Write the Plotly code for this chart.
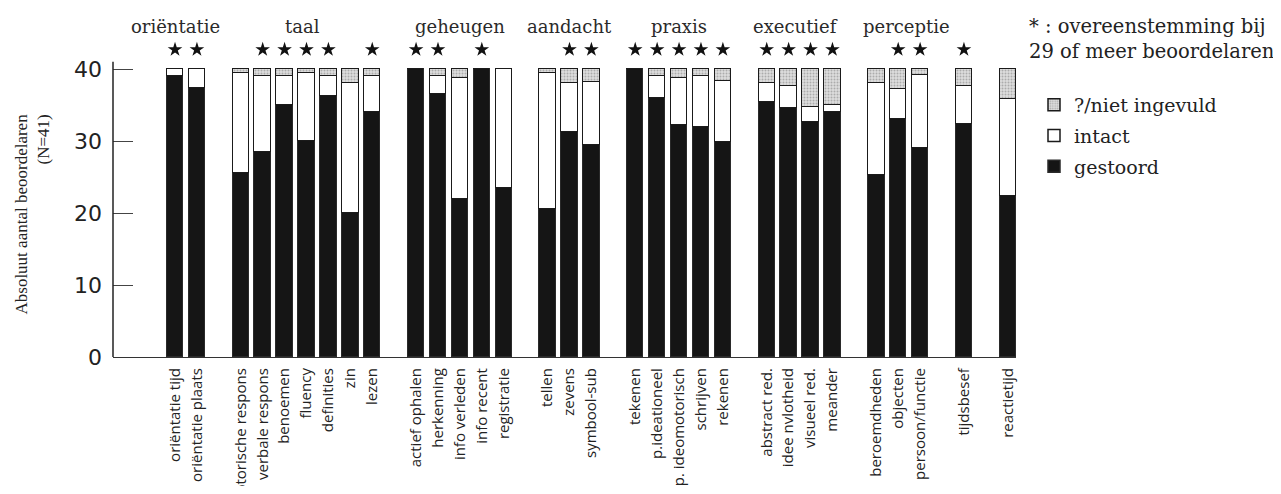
import plotly.graph_objects as go

# ---------------- data ----------------
labels = ["oriëntatie tijd", "oriëntatie plaats",
          "motorische respons", "verbale respons", "benoemen", "fluency", "definities", "zin", "lezen",
          "actief ophalen", "herkenning", "info verleden", "info recent", "registratie",
          "tellen", "zevens", "symbool-sub",
          "tekenen", "p.ideationeel", "p. ideomotorisch", "schrijven", "rekenen",
          "abstract red.", "idee nvlotheid", "visueel red.", "meander",
          "beroemdheden", "objecten", "persoon/functie",
          "tijdsbesef",
          "reactietijd"]
groups = ["oriëntatie"] * 2 + ["taal"] * 7 + ["geheugen"] * 5 + ["aandacht"] * 3 + \
         ["praxis"] * 5 + ["executief"] * 4 + ["perceptie"] * 3 + ["tijd"] + ["reactie"]
group_titles = {"oriëntatie": "oriëntatie", "taal": "taal", "geheugen": "geheugen",
                "aandacht": "aandacht", "praxis": "praxis", "executief": "executief",
                "perceptie": "perceptie", "tijd": "", "reactie": ""}

gestoord = [39, 37.3, 25.5, 28.5, 35, 30, 36.3, 20, 34, 40, 36.5, 22, 40, 23.5,
            20.5, 31.3, 29.5, 40, 36, 32.2, 32, 29.8, 35.4, 34.6, 32.7, 34,
            25.3, 33.1, 29, 32.4, 22.3]
intact = [1, 2.7, 14, 10.5, 4, 9.5, 2.7, 18, 5, 0, 2.5, 16.8, 0, 16.5,
          19, 6.7, 8.7, 0, 3, 6.6, 7, 8.5, 2.6, 3.1, 2, 1,
          12.7, 4.1, 10.2, 5.2, 13.5]
onbekend = [0, 0, 0.5, 1, 1, 0.5, 1, 2, 1, 0, 1, 1.2, 0, 0,
            0.5, 2, 1.8, 0, 1, 1.2, 1, 1.7, 2, 2.3, 5.3, 5,
            2, 2.8, 0.8, 2.4, 4.2]
consensus = [1, 1, 0, 1, 1, 1, 1, 0, 1, 1, 1, 0, 1, 0, 0, 1, 1,
             1, 1, 1, 1, 1, 1, 1, 1, 1, 0, 1, 1, 1, 0]
y_ticks = [0, 10, 20, 30, 40]
y_axis_top = 41

# ---------------- positions (one empty slot between groups) ----------------
pos = []
p = 0
for i, g in enumerate(groups):
    if i > 0:
        p += 1 if g == groups[i - 1] else 2
    pos.append(p)

# page has an 8px body margin; work in figure coordinates
OFF = 8
W, H = 1281 - 2 * OFF, 494 - 2 * OFF
ml, mt = 113 - OFF, 4
mr = W - (1016 - OFF)
mb = H - (357 - OFF)
pw = W - ml - mr
ph = H - mt - mb
y_top = ph / 7.2


def px(x_ref):
    return (x_ref - OFF - ml) / pw


def py(y_ref):
    return (H - mb - (y_ref - OFF)) / ph


fig = go.Figure()
bar_w = 0.75
fig.add_trace(go.Bar(x=pos, y=gestoord, name="gestoord", width=bar_w, legendgroup="a",
                     legendrank=3,
                     marker=dict(color="#151515", line=dict(color="#2a2a2a", width=1.5))))
fig.add_trace(go.Bar(x=pos, y=intact, name="intact", width=bar_w, legendgroup="b",
                     legendrank=2,
                     marker=dict(color="white", line=dict(color="#1a1a1a", width=1.5))))
fig.add_trace(go.Bar(x=pos, y=onbekend, name="?/niet ingevuld", width=bar_w, legendgroup="c",
                     legendrank=1,
                     marker=dict(color="#dedede", line=dict(color="#1a1a1a", width=1.5),
                                 pattern=dict(shape=".", fgcolor="#7a7a7a", bgcolor="#dedede",
                                              size=3, solidity=0.35))))

# consensus stars
sx = [pos[i] for i in range(len(pos)) if consensus[i]]
fig.add_trace(go.Scatter(x=sx, y=[42.7] * len(sx), mode="markers", showlegend=False,
                         hoverinfo="skip",
                         marker=dict(symbol="star", size=11, color="#111",
                                     line=dict(width=0))))

# group headers
header_shift = {"oriëntatie": -10, "perceptie": 8, "executief": -4, "taal": -4}
seen = []
for g in groups:
    if g not in seen:
        seen.append(g)
for g in seen:
    if not group_titles[g]:
        continue
    xs = [pos[i] for i in range(len(pos)) if groups[i] == g]
    fig.add_annotation(x=sum(xs) / len(xs), y=45.9, xref="x", yref="y", text=group_titles[g],
                       xshift=header_shift.get(g, 0), showarrow=False,
                       font=dict(family="DejaVu Serif", size=18, color="#2a2a2a"))

# y axis line only up to 41
fig.add_shape(type="line", xref="paper", yref="y", x0=0, x1=0, y0=0, y1=y_axis_top,
              line=dict(color="#222", width=1.5))

# y axis title (two lines, end aligned)
fig.add_annotation(x=px(32), y=py(112), xref="paper", yref="paper",
                   xanchor="center", yanchor="top", textangle=-90, align="right",
                   text="Absoluut aantal beoordelaren<br>(N=41)", showarrow=False,
                   font=dict(family="Liberation Serif", size=17, color="#222"))

# note at top right
fig.add_annotation(x=px(1027), y=py(39), xref="paper", yref="paper",
                   xanchor="left", yanchor="middle", align="left", showarrow=False,
                   text="* : overeenstemming bij<br>29 of meer beoordelaren",
                   font=dict(family="DejaVu Serif", size=19.5, color="#222"))

fig.update_layout(
    width=W, height=H, barmode="stack", bargap=0,
    plot_bgcolor="white", paper_bgcolor="white",
    margin=dict(l=ml, r=mr, t=mt, b=mb, autoexpand=False),
    showlegend=True,
    legend=dict(x=px(1034), y=py(86), xanchor="left", yanchor="top",
                traceorder="grouped", tracegroupgap=3,
                font=dict(family="DejaVu Serif", size=19, color="#222"),
                bgcolor="rgba(0,0,0,0)"),
    xaxis=dict(range=[-2.83, pos[-1] + 0.375], tickmode="array", tickvals=pos, ticktext=labels,
               tickangle=-90, showgrid=False, zeroline=False, showline=True,
               linecolor="#333", linewidth=1.2, ticks="", automargin=False,
               ticklabelstandoff=4,
               tickfont=dict(family="Open Sans", size=15, color="#222")),
    yaxis=dict(range=[0, y_top], tickmode="array", tickvals=y_ticks, showgrid=False,
               zeroline=False, showline=False,
               ticks="inside", ticklen=20, tickcolor="#444", tickwidth=1,
               automargin=False, ticklabelstandoff=10,
               tickfont=dict(family="DejaVu Sans", size=22, color="#222")),
)

fig.write_html("out.html")
